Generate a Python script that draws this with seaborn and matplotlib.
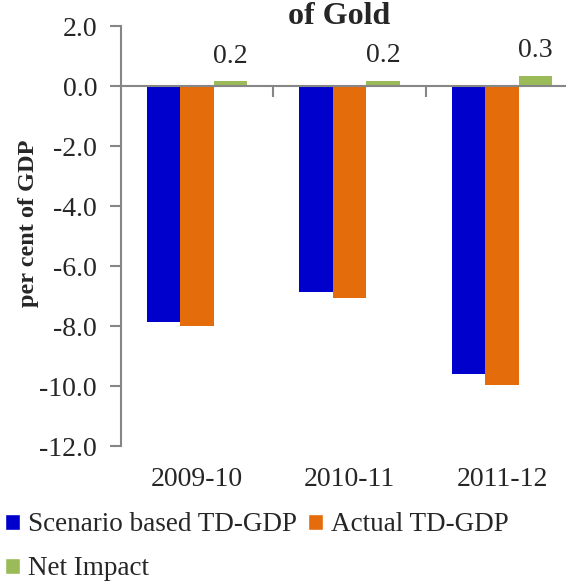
import matplotlib
matplotlib.use("Agg")
import matplotlib.pyplot as plt
import seaborn as sns
import pandas as pd
from matplotlib.patches import Patch

# ---- data ----
years = ["2009-10", "2010-11", "2011-12"]
series_names = ["Scenario based TD-GDP", "Actual TD-GDP", "Net Impact"]
scenario_td_gdp = [-7.85, -6.85, -9.6]
actual_td_gdp = [-8.0, -7.05, -9.95]
net_impact = [0.16, 0.18, 0.34]
colors = ["#0000CC", "#E46C0A", "#9BBB59"]
y_ticks = [2.0, 0.0, -2.0, -4.0, -6.0, -8.0, -10.0, -12.0]

df = pd.DataFrame({
    "year": years * 3,
    "series": [series_names[0]] * 3 + [series_names[1]] * 3 + [series_names[2]] * 3,
    "value": scenario_td_gdp + actual_td_gdp + net_impact,
})

sns.set_style("white")
plt.rcParams["font.family"] = ["Liberation Serif", "DejaVu Serif"]
FS = 20
grey = "#868686"

fig = plt.figure(figsize=(5.66, 5.81), dpi=100)
ax = fig.add_axes([120.7 / 566, (581 - 446) / 581, 457.5 / 566, 420 / 581])

sns.barplot(data=df, x="year", y="value", hue="series", hue_order=series_names,
            palette=colors, saturation=1, width=0.657, dodge=True,
            legend=False, ax=ax, linewidth=0)

ax.set_xlim(-0.5, 2.5)
ax.set_ylim(-12, 2)
ax.set_yticks(y_ticks)
ax.set_yticklabels([f"{v:.1f}" for v in y_ticks], fontsize=FS)
ax.tick_params(axis="y", direction="out", length=8, width=1.5, color=grey, pad=9, left=True)

# x axis line at zero with category-boundary ticks
for s in ["top", "right"]:
    ax.spines[s].set_visible(False)
ax.spines["left"].set_color(grey)
ax.spines["left"].set_linewidth(1.5)
ax.spines["bottom"].set_position(("data", 0))
ax.spines["bottom"].set_color(grey)
ax.spines["bottom"].set_linewidth(1.5)
ax.set_xticks([0.5, 1.5])
ax.set_xticklabels([])
ax.tick_params(axis="x", direction="out", length=8, width=1.5, color=grey, bottom=True)
ax.set_xlabel("")

sec = ax.secondary_xaxis("bottom")
sec.set_xticks(range(len(years)))
sec.set_xticklabels(years, fontsize=FS)
sec.tick_params(length=0, pad=15)
sec.spines["bottom"].set_visible(False)

ax.set_ylabel("per cent of GDP", fontsize=17.5, fontweight="bold")
ax.yaxis.set_label_coords(-0.178, 0.53)

# data labels for Net Impact
ax.bar_label(ax.containers[2], labels=[f"{v:.1f}" for v in net_impact],
             fontsize=FS, padding=9)

fig.text(339 / 566, 1 - 24 / 581, "of Gold", ha="center", va="baseline",
         fontsize=23, fontweight="bold")

handles = [Patch(facecolor=colors[0], label=series_names[0]),
           Patch(facecolor=colors[2], label=series_names[2]),
           Patch(facecolor=colors[1], label=series_names[1])]
fig.legend(handles=handles, ncol=2, loc="upper left",
           bbox_to_anchor=(0.0, 1 - 507 / 581), frameon=False, fontsize=19.5,
           handlelength=0.55, handleheight=0.55, handletextpad=0.3,
           columnspacing=0.4, labelspacing=0.7, borderaxespad=0, borderpad=0.2)

fig.savefig("out.png", dpi=100)
